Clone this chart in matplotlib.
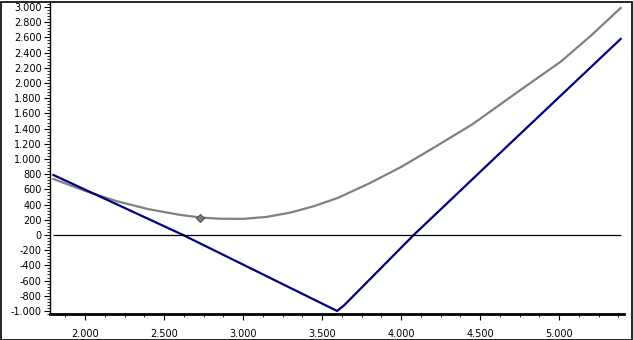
import numpy as np
import matplotlib
matplotlib.use("Agg")
import matplotlib.pyplot as plt
from matplotlib.ticker import FuncFormatter, MultipleLocator
from matplotlib.patches import Rectangle

# gray curve
gray_x = [1.80, 2.00, 2.20, 2.40, 2.60, 2.73, 2.85, 3.00, 3.15, 3.30, 3.45, 3.60,
          3.80, 4.00, 4.20, 4.45, 4.75, 5.01, 5.20, 5.39]
gray_y = [737, 580, 445, 340, 265, 230, 214, 212, 238, 295, 380, 488,
          680, 895, 1140, 1455, 1900, 2280, 2620, 2987]

# blue curve
blue_x = [1.80, 2.62, 3.595, 3.64, 4.08, 4.66, 5.39]
blue_y = [789, 0, -1000, -925, 0, 1145, 2580]

marker_x = [2.73]
marker_y = [228]

fig = plt.figure(figsize=(6.33, 3.4), dpi=100)
ax = fig.add_axes([50/633, 1 - 314/340, 574/633, 311/340])

ax.plot(gray_x, gray_y, color="#808080", lw=1.6)
ax.plot(blue_x, blue_y, color="#000080", lw=1.6)
ax.plot(marker_x, marker_y, "D", color="#808080", mec="#404040", mew=0.7, ms=4.5)
ax.hlines(0, 1.80, 5.39, color="black", lw=0.9)

ax.set_xlim(1.778, 5.411)
ax.set_ylim(-1040, 3053)

ax.xaxis.set_major_locator(MultipleLocator(0.5))
ax.xaxis.set_minor_locator(MultipleLocator(0.125))
ax.yaxis.set_major_locator(MultipleLocator(200))
ax.yaxis.set_minor_locator(MultipleLocator(40))
ax.xaxis.set_major_formatter(FuncFormatter(lambda v, p: f"{v:.3f}"))
ax.yaxis.set_major_formatter(FuncFormatter(lambda v, p: f"{v:,.0f}".replace(",", ".")))

ax.tick_params(axis="both", which="major", labelsize=7, length=4, width=0.8, direction="out")
ax.tick_params(axis="x", which="major", pad=7)
ax.tick_params(axis="y", which="major", pad=2)
ax.tick_params(axis="both", which="minor", length=2, width=0.6, direction="out")

for s in ["top", "right"]:
    ax.spines[s].set_visible(False)
ax.spines["left"].set_linewidth(1.0)
ax.spines["bottom"].set_linewidth(2.0)

fig.add_artist(Rectangle((0.5/633, 0.5/340), 631/633, 338/340, transform=fig.transFigure,
                         fill=False, edgecolor="black", lw=1.2))

fig.savefig("out.png", dpi=100)
